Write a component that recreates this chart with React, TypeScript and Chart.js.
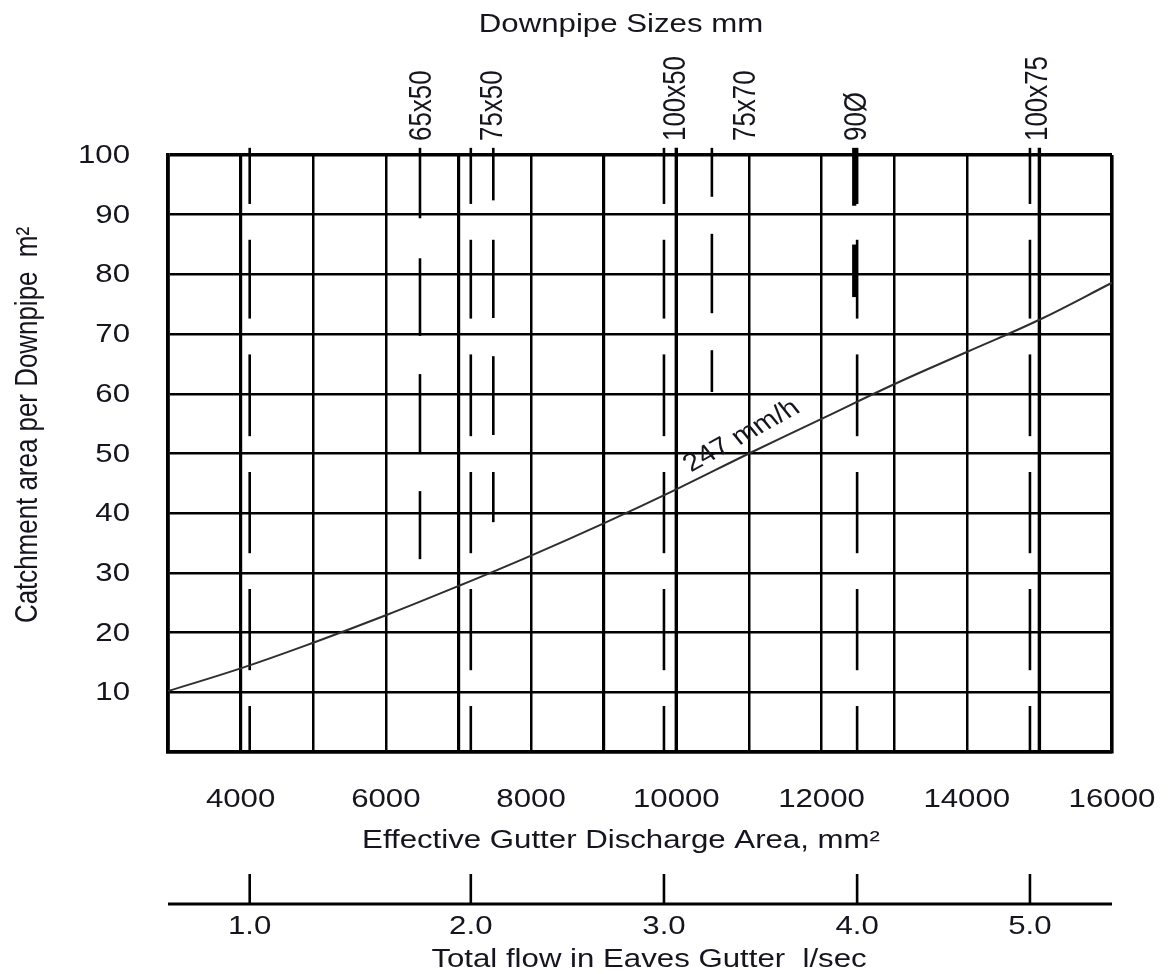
import React, { useEffect, useRef } from "react";
import { Chart, registerables } from "chart.js";

Chart.register(...registerables);

// ---- data ----
const AREA_MIN = 3000;
const AREA_MAX = 16000;
const AREA_STEP = 1000;
const CATCH_MIN = 0;
const CATCH_MAX = 100;
const CATCH_STEP = 10;

// 247 mm/h curve: effective gutter discharge area (mm²) -> catchment area (m²)
const curveArea = [3000, 4000, 5000, 6000, 7000, 8000, 9000, 10000, 11000, 12000, 13000, 14000, 15000, 16000];
const curveCatchment = [10.2, 14.0, 18.3, 22.9, 27.8, 32.9, 38.3, 44.0, 50.0, 55.8, 61.6, 67.0, 72.4, 78.6];
const curveLabel = "247 mm/h";
const curveLabelArea = 10900;
const curveLabelCatchment = 52.9;
const curveLabelAngleDeg = -29;

const areaTickLabels = [4000, 6000, 8000, 10000, 12000, 14000, 16000];
const catchTickLabels = [10, 20, 30, 40, 50, 60, 70, 80, 90, 100];

// total flow scale (l/sec), as positions on the area axis
const flowLabels = ["1.0", "2.0", "3.0", "4.0", "5.0"];
const flowAtArea = [4125, 7170, 9830, 12490, 14870];
// gaps of the dashed flow lines (catchment values)
const flowDashGaps = [88.8, 69.6, 49.9, 30.3, 10.7];

// downpipe sizes
const downpipeNames = ["65x50", "75x50", "100x50", "75x70", "90Ø", "100x75"];
const downpipeLabelArea = [6510, 7480, 10000, 10960, 12490, 14990];
const downpipeLineArea = [6470, 7480, 10000, 10490, 12450, 15000];
const downpipeSegments: number[][][] = [
  [[101.2, 89.4], [82.7, 69.7], [63.3, 49.9], [43.7, 32.3]],
  [[101.2, 92.4], [85.8, 72.7], [66.3, 53.1], [46.9, 38.5]],
  [[101.2, 0]],
  [[101.2, 93.0], [86.8, 73.5], [67.3, 60.3]],
  [[101.2, 91.5], [85.0, 76.2]],
  [[101.2, 0]],
];

const titleTop = "Downpipe Sizes mm";
const titleArea = "Effective Gutter Discharge Area, mm²";
const titleFlow = "Total flow in Eaves Gutter  l/sec";
const titleCatch = "Catchment area per Downpipe  m²";

// ---- styles ----
const W = 1171;
const H = 974;
const FONT_FAMILY = "'Liberation Sans', Arial, sans-serif";
const SX = 1.3;
const SY = 1.08;
const TEXT = "#15151f";
const LINE = "#000";
const downpipeLineWidth = [2.6, 2.6, 3.4, 2.6, 4.2, 3.4];
const thickGrid = [4000, 7000, 9000];

function drawText(
  ctx: CanvasRenderingContext2D,
  text: string,
  x: number,
  y: number,
  align: CanvasTextAlign,
  baseline: CanvasTextBaseline,
  size: number,
  rot = 0
) {
  ctx.save();
  ctx.translate(x, y);
  ctx.scale(SX, SY);
  if (rot) ctx.rotate(rot);
  ctx.font = `${size}px ${FONT_FAMILY}`;
  ctx.textAlign = align;
  ctx.textBaseline = baseline;
  ctx.fillStyle = TEXT;
  ctx.fillText(text, 0, 0);
  ctx.restore();
}

function vSeg(ctx: CanvasRenderingContext2D, x: number, y1: number, y2: number, w: number) {
  ctx.save();
  ctx.strokeStyle = LINE;
  ctx.lineWidth = w;
  ctx.lineCap = "butt";
  ctx.beginPath();
  ctx.moveTo(x, y1);
  ctx.lineTo(x, y2);
  ctx.stroke();
  ctx.restore();
}

const overlayPlugin = {
  id: "overlay",
  beforeDatasetsDraw(chart: any) {
    const { ctx, scales } = chart;
    const xs = scales.x;
    const ys = scales.y;
    const gapHalf = 3.0;
    flowAtArea.forEach((a) => {
      const x = xs.getPixelForValue(a);
      let from = 101.2;
      flowDashGaps.forEach((g) => {
        vSeg(ctx, x, ys.getPixelForValue(from), ys.getPixelForValue(g + gapHalf), 2.6);
        from = g - gapHalf;
      });
      vSeg(ctx, x, ys.getPixelForValue(from), ys.getPixelForValue(CATCH_MIN), 2.6);
    });
    downpipeLineArea.forEach((a, i) => {
      const x = xs.getPixelForValue(a);
      downpipeSegments[i].forEach(([t, b]) => {
        vSeg(ctx, x, ys.getPixelForValue(t), ys.getPixelForValue(b), downpipeLineWidth[i]);
      });
    });
  },
  afterDraw(chart: any) {
    const { ctx, scales, chartArea } = chart;
    const xs = scales.x;
    const ys = scales.y;
    const { left, right, top, bottom } = chartArea;

    catchTickLabels.forEach((v) => {
      drawText(ctx, String(v), left - 38, ys.getPixelForValue(v) + 8, "right", "alphabetic", 24);
    });
    areaTickLabels.forEach((v) => {
      drawText(ctx, String(v), xs.getPixelForValue(v), bottom + 55, "center", "alphabetic", 24);
    });
    drawText(ctx, titleTop, left + 453, top - 123, "center", "alphabetic", 24);
    drawText(ctx, titleArea, left + 453, bottom + 96, "center", "alphabetic", 24);
    drawText(ctx, titleCatch, left - 140, 425, "center", "middle", 24, -Math.PI / 2);

    const flowY = bottom + 152;
    ctx.save();
    ctx.strokeStyle = LINE;
    ctx.lineWidth = 3;
    ctx.beginPath();
    ctx.moveTo(left, flowY);
    ctx.lineTo(right, flowY);
    ctx.stroke();
    ctx.restore();
    flowAtArea.forEach((a, i) => {
      const x = xs.getPixelForValue(a);
      vSeg(ctx, x, flowY - 30, flowY, 2.6);
      drawText(ctx, flowLabels[i], x, flowY + 30, "center", "alphabetic", 24);
    });
    drawText(ctx, titleFlow, left + 481, bottom + 215, "center", "alphabetic", 24);

    downpipeNames.forEach((n, i) => {
      drawText(ctx, n, xs.getPixelForValue(downpipeLabelArea[i]), top - 14, "left", "middle", 24, -Math.PI / 2);
    });

    const t = Math.tan((curveLabelAngleDeg * Math.PI) / 180);
    const inner = Math.atan((SX / SY) * t);
    drawText(
      ctx,
      curveLabel,
      xs.getPixelForValue(curveLabelArea),
      ys.getPixelForValue(curveLabelCatchment),
      "center",
      "middle",
      23,
      inner
    );
  },
};

export default function App() {
  const ref = useRef<HTMLCanvasElement>(null);
  useEffect(() => {
    if (!ref.current) return;
    const chart = new Chart(ref.current, {
      type: "line",
      data: {
        datasets: [
          {
            data: curveArea.map((a, i) => ({ x: a, y: curveCatchment[i] })),
            borderColor: "#2e2e2e",
            borderWidth: 2,
            pointRadius: 0,
            tension: 0.4,
            fill: false,
          },
        ],
      },
      options: {
        animation: false,
        responsive: false,
        devicePixelRatio: 1,
        layout: { padding: { left: 168, top: 155, right: 59, bottom: 222 } },
        plugins: { legend: { display: false }, tooltip: { enabled: false }, title: { display: false } },
        scales: {
          x: {
            type: "linear",
            min: AREA_MIN,
            max: AREA_MAX,
            ticks: { stepSize: AREA_STEP, display: false },
            grid: {
              color: LINE,
              drawTicks: false,
              lineWidth: (c: any) => {
                const v = c.tick ? c.tick.value : 0;
                if (v === AREA_MIN || v === AREA_MAX) return 3.6;
                return thickGrid.includes(v) ? 3.2 : 2.5;
              },
            },
            border: { display: true, color: LINE, width: 3.6 },
            afterFit: (s: any) => {
              s.height = 0;
            },
          },
          y: {
            type: "linear",
            min: CATCH_MIN,
            max: CATCH_MAX,
            ticks: { stepSize: CATCH_STEP, display: false },
            grid: {
              color: LINE,
              drawTicks: false,
              lineWidth: (c: any) => {
                const v = c.tick ? c.tick.value : 0;
                return v === CATCH_MIN || v === CATCH_MAX ? 3.6 : 2.6;
              },
            },
            border: { display: true, color: LINE, width: 3.6 },
            afterFit: (s: any) => {
              s.width = 0;
            },
          },
        },
      },
      plugins: [overlayPlugin],
    });
    return () => chart.destroy();
  }, []);
  return (
    <div style={{ position: "fixed", left: 0, top: 0, width: W, height: H, background: "#fff" }}>
      <canvas ref={ref} width={W} height={H} style={{ width: W, height: H, display: "block" }} />
    </div>
  );
}
